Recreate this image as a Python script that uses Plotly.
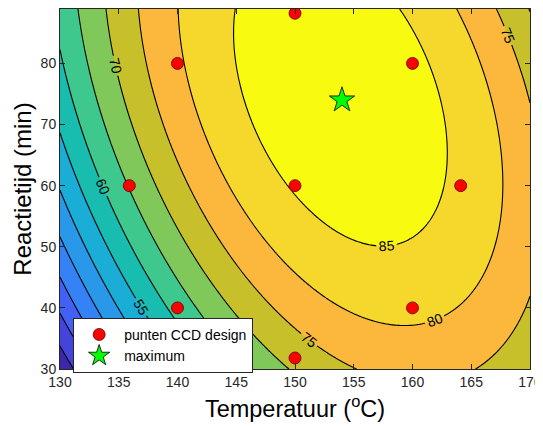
import numpy as np
import plotly.graph_objects as go

# CCD design points (Temperatuur, Reactietijd)
ccd_T = [140, 160, 140, 160, 150, 135.9, 164.1, 150, 150]
ccd_t = [40, 40, 80, 80, 60, 60, 60, 31.8, 88.2]

# location of the maximum
max_T = [154.0]
max_t = [74.0]

# contour crossings: (T, t) per level
c85_T = [144.75, 158.8, 147.6, 149.9, 153.3, 157.2, 157.8, 162.5, 163.4, 162.9, 161.2, 147.3]
c85_t = [88.9, 88.9, 63.8, 58.9, 53.1, 49.3, 49.1, 56.1, 60.2, 71.4, 80.4, 66.4]
c80_T = [140.07, 140.0, 142.2, 142.8, 144.75, 147.6, 150.4, 152.8, 156.1, 158.7, 163.6, 165.2, 166.9, 167.9, 167.4]
c80_t = [88.9, 80.0, 67.9, 65.4, 58.3, 51.2, 45.2, 41.1, 38.6, 37.5, 88.9, 82.9, 68.7, 54.5, 50.7]
c75_T = [136.7, 140.8, 141.9, 144.75, 147.6, 150.4, 151.8, 155.5, 165.1, 170.0, 170.0, 166.9]
c75_t = [88.9, 60.7, 56.1, 48.5, 41.9, 35.9, 34.3, 30.0, 30.2, 41.7, 73.7, 88.9]
c70_T = [134.0, 137.2, 141.9, 144.75, 147.0, 149.7, 169.9]
c70_t = [88.9, 63.8, 46.8, 41.4, 35.9, 30.2, 88.9]
c65_T = [131.6, 134.7, 136.0, 145.7]
c65_t = [88.9, 64.8, 60.0, 30.0]
c60_T = [130.0, 132.7, 133.1, 142.9]
c60_t = [82.1, 64.5, 62.6, 30.0]
c55_T = [130.0, 131.2, 140.0]
c55_t = [68.3, 62.0, 30.0]
c50_T = [130.0, 138.1]
c50_t = [59.4, 30.0]
c45_T = [130.0, 136.1]
c45_t = [52.0, 30.0]
c40_T = [130.0, 134.4]
c40_t = [45.5, 30.0]
c35_T = [130.0, 132.7]
c35_t = [40.0, 30.0]
c30_T = [131.1]
c30_t = [30.0]

levels_read = [85, 80, 75, 70, 65, 60, 55, 50, 45, 40, 35, 30]
pts_T = [c85_T, c80_T, c75_T, c70_T, c65_T, c60_T, c55_T, c50_T, c45_T, c40_T, c35_T, c30_T]
pts_t = [c85_t, c80_t, c75_t, c70_t, c65_t, c60_t, c55_t, c50_t, c45_t, c40_t, c35_t, c30_t]

# band colours (below 30, 30-35, ..., 80-85, above 85)
band_colors = ['#3e26a8', '#4444dc', '#4360f5', '#3582f6', '#2a98e8', '#1aaed6',
               '#18bdb0', '#3ec88e', '#80c85a', '#c8c02a', '#fbb83c', '#f5d82b', '#f8fa0f']

x_ticks = [130, 135, 140, 145, 150, 155, 160, 165, 170]
y_ticks = [30, 40, 50, 60, 70, 80]

# ---- quadratic response surface through the read contour crossings ----
TT, tt, zz = [], [], []
for lv, a, b in zip(levels_read, pts_T, pts_t):
    TT += a; tt += b; zz += [lv] * len(a)
TT = np.array(TT); tt = np.array(tt); zz = np.array(zz, float)
u = (TT - 150) / 10; v = (tt - 60) / 10
A = np.column_stack([np.ones_like(u), u, v, u * u, v * v, u * v])
coef, *_ = np.linalg.lstsq(A, zz, rcond=None)

xg = np.linspace(130, 170, 241)
yg = np.linspace(30, 88.9, 241)
XG, YG = np.meshgrid(xg, yg)
U = (XG - 150) / 10; V = (YG - 60) / 10
Z = coef[0] + coef[1]*U + coef[2]*V + coef[3]*U*U + coef[4]*V*V + coef[5]*U*V

n = len(band_colors)
cscale = [[k / (n - 1), c] for k, c in enumerate(band_colors)]

fig = go.Figure()
fig.add_trace(go.Contour(
    x=xg, y=yg, z=Z, autocontour=False,
    contours=dict(start=30, end=85, size=5, coloring='fill', showlines=False),
    colorscale=cscale, showscale=False, line=dict(width=0),
    hoverinfo='skip', showlegend=False))
fig.add_trace(go.Contour(
    x=xg, y=yg, z=Z, autocontour=False,
    contours=dict(start=20, end=50, size=5, coloring='none'),
    line=dict(color='black', width=1.1), showscale=False,
    hoverinfo='skip', showlegend=False))
fig.add_trace(go.Contour(
    x=xg, y=yg, z=Z, autocontour=False,
    contours=dict(start=55, end=85, size=5, coloring='none', showlabels=True,
                  labelfont=dict(size=14, color='black', family='Liberation Sans')),
    line=dict(color='black', width=1.1), showscale=False,
    hoverinfo='skip', showlegend=False))

fig.add_trace(go.Scatter(
    x=ccd_T, y=ccd_t, mode='markers', name='punten CCD design',
    marker=dict(symbol='circle', size=12, color='#ff0000',
                line=dict(color='#5a0000', width=0.8))))
fig.add_trace(go.Scatter(
    x=max_T, y=max_t, mode='markers', name='maximum',
    marker=dict(symbol='star', size=19, color='#00ff00',
                line=dict(color='#000000', width=0.8))))

axis_common = dict(showline=True, linecolor='#262626', linewidth=1, mirror='allticks',
                   ticks='inside', ticklen=5, tickcolor='#262626', showgrid=False,
                   zeroline=False, automargin=False,
                   tickfont=dict(family='Liberation Sans', size=14, color='#262626'))
fig.update_xaxes(range=[130, 170], tickvals=x_ticks,
                 title=dict(text='Temperatuur (<sup>o</sup>C)', standoff=11,
                            font=dict(family='Liberation Sans', size=23.5, color='#000000')),
                 **axis_common)
fig.update_yaxes(range=[30, 88.9], tickvals=y_ticks,
                 title=dict(text='Reactietijd (min)', standoff=2,
                            font=dict(family='Liberation Sans', size=24, color='#000000')),
                 **axis_common)

# the page adds an 8 px body margin, so the figure is drawn 8 px lower/right
fig.update_layout(
    width=535, height=419,
    margin=dict(l=52, r=13, t=1, b=57.7),
    paper_bgcolor='white', plot_bgcolor='white',
    font=dict(family='Liberation Sans', color='#000000'),
    legend=dict(x=0.028, y=0.142, xanchor='left', yanchor='top',
                bgcolor='white', bordercolor='#262626', borderwidth=1,
                font=dict(size=14, family='Liberation Sans', color='#000000'),
                tracegroupgap=0, itemwidth=40),
)
fig.write_html('out.html')
